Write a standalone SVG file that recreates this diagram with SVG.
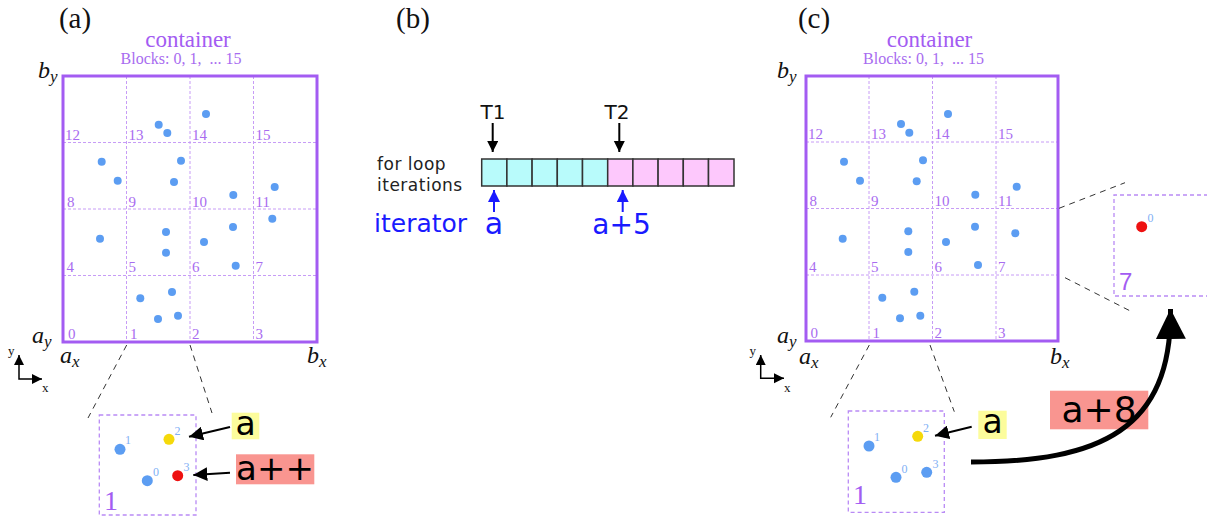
<svg xmlns="http://www.w3.org/2000/svg" width="1207" height="518" viewBox="0 0 1207 518">
<style>
.bg{fill:#fff}
.frame{fill:none;stroke:#a35cf2;stroke-width:3}
.grid{stroke:#c79cf6;stroke-width:1;stroke-dasharray:3,2;fill:none}
.blk{font-family:"Liberation Serif",serif;font-size:15px;fill:#a86cf0}
.title{font-family:"Liberation Serif",serif;font-size:23px;fill:#a35cf2;text-anchor:middle}
.sub{font-family:"Liberation Serif",serif;font-size:16px;fill:#a86cf0;text-anchor:middle;white-space:pre}
.panel{font-family:"Liberation Serif",serif;font-size:29px;fill:#111;text-anchor:middle}
.coord{font-family:"Liberation Serif",serif;font-style:italic;font-size:24px;fill:#111}
.coordsub{font-size:17px}
.dot{fill:#5c9df2}
.zoomline{stroke:#333;stroke-width:1;stroke-dasharray:6,5;fill:none}
.inset{fill:none;stroke:#b98af5;stroke-width:1.3;stroke-dasharray:4,3}
.ilbl{font-family:"Liberation Serif",serif;font-size:12px;fill:#7fb0f5}
.ibig{font-family:"Liberation Serif",serif;font-size:28px;fill:#a35cf2}
.axis{stroke:#000;stroke-width:1.5;fill:none}
.axl{font-family:"Liberation Serif",serif;font-size:13px;fill:#111}
.sans{font-family:"DejaVu Sans","Liberation Sans",sans-serif}
.blk-arrow{stroke:#000;stroke-width:2;fill:none}
.blue-arrow{stroke:#1a1aff;stroke-width:2;fill:none}
.cell{stroke:#333;stroke-width:1.5}
.cyan{fill:#b8fbfb}
.pink{fill:#fdc8fc}
</style>
<defs>
<marker id="ah" markerUnits="userSpaceOnUse" markerWidth="16" markerHeight="14" refX="14" refY="7" orient="auto"><path d="M0,0 L14,7 L0,14 z" fill="#000"/></marker>
<marker id="ahs" markerUnits="userSpaceOnUse" markerWidth="12" markerHeight="12" refX="11" refY="5.5" orient="auto"><path d="M0,0 L11,5.5 L0,11 z" fill="#000"/></marker>
<marker id="ahb" markerUnits="userSpaceOnUse" markerWidth="14" markerHeight="14" refX="12" refY="6" orient="auto"><path d="M0,0 L12,6 L0,12 z" fill="#1a1aff"/></marker>
<marker id="ahbig" markerUnits="userSpaceOnUse" markerWidth="32" markerHeight="32" refX="30" refY="15" orient="auto"><path d="M0,0 L30,15 L0,30 z" fill="#000"/></marker>
<marker id="ahax" markerUnits="userSpaceOnUse" markerWidth="12" markerHeight="12" refX="10" refY="5" orient="auto-start-reverse"><path d="M0,0 L10,5 L0,10 z" fill="#000"/></marker>
</defs>
<rect class="bg" x="0" y="0" width="1207" height="518"/>

<!-- Panel (a) -->
<g id="panel-a">
<text class="panel" x="75" y="28">(a)</text>
<text class="title" x="188" y="47">container</text>
<text class="sub" x="181" y="64">Blocks: 0, 1,  ... 15</text>
<text class="coord" x="38" y="78">b<tspan class="coordsub" dy="4">y</tspan></text>
<text class="coord" x="32" y="343">a<tspan class="coordsub" dy="4">y</tspan></text>
<text class="coord" x="60" y="363">a<tspan class="coordsub" dy="4">x</tspan></text>
<text class="coord" x="307" y="363">b<tspan class="coordsub" dy="4">x</tspan></text>
<g id="grid-a">
<line class="grid" x1="126.5" y1="76" x2="126.5" y2="342"/>
<line class="grid" x1="190" y1="76" x2="190" y2="342"/>
<line class="grid" x1="253.5" y1="76" x2="253.5" y2="342"/>
<line class="grid" x1="63" y1="142.5" x2="317" y2="142.5"/>
<line class="grid" x1="63" y1="209" x2="317" y2="209"/>
<line class="grid" x1="63" y1="275.5" x2="317" y2="275.5"/>
<rect class="frame" x="63" y="76" width="254" height="266"/>
</g>
<g id="blocks-a">
<text class="blk" x="65" y="139.5">12</text><text class="blk" x="128.5" y="139.5">13</text><text class="blk" x="192" y="139.5">14</text><text class="blk" x="255.5" y="139.5">15</text>
<text class="blk" x="67" y="206.5">8</text><text class="blk" x="128.5" y="206.5">9</text><text class="blk" x="192" y="206.5">10</text><text class="blk" x="255.5" y="206.5">11</text>
<text class="blk" x="66.5" y="272">4</text><text class="blk" x="128.5" y="272">5</text><text class="blk" x="192" y="272">6</text><text class="blk" x="255.5" y="272">7</text>
<text class="blk" x="68" y="338.5">0</text><text class="blk" x="130" y="338.5">1</text><text class="blk" x="192" y="338.5">2</text><text class="blk" x="255.5" y="338.5">3</text>
</g>
<g id="points-a">
<circle class="dot" cx="206" cy="114" r="4"/><circle class="dot" cx="158.7" cy="124.7" r="4"/><circle class="dot" cx="167.3" cy="133" r="4"/>
<circle class="dot" cx="101.7" cy="161.7" r="4"/><circle class="dot" cx="181" cy="160.7" r="4"/><circle class="dot" cx="117.7" cy="180.7" r="4"/><circle class="dot" cx="174" cy="182" r="4"/><circle class="dot" cx="233.3" cy="195" r="4"/><circle class="dot" cx="274.7" cy="187" r="4"/>
<circle class="dot" cx="272.3" cy="218.7" r="4"/><circle class="dot" cx="233" cy="227" r="4"/><circle class="dot" cx="100" cy="238.7" r="4"/><circle class="dot" cx="166" cy="232" r="4"/><circle class="dot" cx="166" cy="252.7" r="4"/><circle class="dot" cx="204" cy="242" r="4"/><circle class="dot" cx="235.7" cy="265.7" r="4"/>
<circle class="dot" cx="140.3" cy="298.3" r="4"/><circle class="dot" cx="172" cy="292" r="4"/><circle class="dot" cx="158" cy="319" r="4"/><circle class="dot" cx="178" cy="315.7" r="4"/>
</g>
<g id="axes-a">
<polyline class="axis" points="19,355 19,379 42,379" marker-start="url(#ahax)" marker-end="url(#ahax)"/>
<text class="axl" x="8" y="355">y</text>
<text class="axl" x="42" y="392">x</text>
</g>
</g>

<g id="inset-a">
<rect class="inset" x="99.3" y="415" width="96.7" height="100"/>
<circle cx="120" cy="449.3" r="5.5" fill="#5c9df2"/><text class="ilbl" x="125" y="444">1</text>
<circle cx="169" cy="439.3" r="5.5" fill="#f5d90a"/><text class="ilbl" x="174.5" y="435">2</text>
<circle cx="147.3" cy="480.7" r="5.5" fill="#5c9df2"/><text class="ilbl" x="153" y="476">0</text>
<circle cx="177.7" cy="475.7" r="5.5" fill="#ee1111"/><text class="ilbl" x="183.5" y="471">3</text>
<text class="ibig" x="104" y="510">1</text>
</g>

<g id="label-a-yellow">
<rect x="231.7" y="412.7" width="27.6" height="26.6" fill="#fcfc9c"/>
<text class="sans" x="245.5" y="435" font-size="33" text-anchor="middle">a</text>
</g>
<g id="label-app">
<rect x="236" y="454.3" width="78.3" height="30" fill="#f99590"/>
<text class="sans" x="275" y="480" font-size="34" text-anchor="middle">a++</text>
</g>

<!-- Panel (b) -->
<g id="panel-b">
<text class="panel" x="413" y="28">(b)</text>
</g>
<g id="loop-cells">
<rect class="cell cyan" x="481.7" y="159" width="25.2" height="27"/>
<rect class="cell cyan" x="506.9" y="159" width="25.2" height="27"/>
<rect class="cell cyan" x="532.1" y="159" width="25.2" height="27"/>
<rect class="cell cyan" x="557.3" y="159" width="25.2" height="27"/>
<rect class="cell cyan" x="582.5" y="159" width="25.2" height="27"/>
<rect class="cell pink" x="607.7" y="159" width="25.2" height="27"/>
<rect class="cell pink" x="632.9" y="159" width="25.2" height="27"/>
<rect class="cell pink" x="658.1" y="159" width="25.2" height="27"/>
<rect class="cell pink" x="683.3" y="159" width="25.2" height="27"/>
<rect class="cell pink" x="708.5" y="159" width="25.5" height="27"/>
</g>
<g id="loop-text">
<text class="sans" x="377" y="170" font-size="17" fill="#222" letter-spacing="0.5">for loop</text>
<text class="sans" x="377" y="191" font-size="17" fill="#222" letter-spacing="0.5">iterations</text>
<text class="sans" x="374" y="232" font-size="25" fill="#1a1aff">iterator</text>
<text class="sans" x="494" y="234" font-size="30" fill="#1a1aff" text-anchor="middle">a</text>
<text class="sans" x="621.5" y="234" font-size="28" fill="#1a1aff" text-anchor="middle">a+5</text>
<text class="sans" x="493" y="119" font-size="20" fill="#111" text-anchor="middle">T1</text>
<text class="sans" x="617" y="119" font-size="20" fill="#111" text-anchor="middle">T2</text>
</g>

<!-- Panel (c) -->
<g id="panel-c">
<text class="panel" x="814" y="28">(c)</text>
<text class="title" x="929.5" y="47">container</text>
<text class="sub" x="923.5" y="64">Blocks: 0, 1,  ... 15</text>
<text class="coord" x="777" y="78">b<tspan class="coordsub" dy="4">y</tspan></text>
<text class="coord" x="777" y="343">a<tspan class="coordsub" dy="4">y</tspan></text>
<text class="coord" x="799" y="364">a<tspan class="coordsub" dy="4">x</tspan></text>
<text class="coord" x="1050" y="364">b<tspan class="coordsub" dy="4">x</tspan></text>
<g id="grid-c">
<line class="grid" x1="869" y1="76" x2="869" y2="341"/>
<line class="grid" x1="932.5" y1="76" x2="932.5" y2="341"/>
<line class="grid" x1="996" y1="76" x2="996" y2="341"/>
<line class="grid" x1="806" y1="142" x2="1058" y2="142"/>
<line class="grid" x1="806" y1="208.5" x2="1058" y2="208.5"/>
<line class="grid" x1="806" y1="275" x2="1058" y2="275"/>
<rect class="frame" x="806" y="76" width="252" height="265"/>
</g>
<g id="blocks-c">
<text class="blk" x="808" y="139.3">12</text><text class="blk" x="871" y="139.3">13</text><text class="blk" x="934.5" y="139.3">14</text><text class="blk" x="998" y="139.3">15</text>
<text class="blk" x="809.5" y="206">8</text><text class="blk" x="871" y="206">9</text><text class="blk" x="934.5" y="206">10</text><text class="blk" x="998" y="206">11</text>
<text class="blk" x="809" y="271.7">4</text><text class="blk" x="871" y="271.7">5</text><text class="blk" x="934.5" y="271.7">6</text><text class="blk" x="998" y="271.7">7</text>
<text class="blk" x="810.5" y="337.7">0</text><text class="blk" x="872.5" y="337.7">1</text><text class="blk" x="934.5" y="337.7">2</text><text class="blk" x="998" y="337.7">3</text>
</g>
<g id="points-c">
<circle class="dot" cx="948" cy="114" r="4"/><circle class="dot" cx="901" cy="124" r="4"/><circle class="dot" cx="909.3" cy="132.7" r="4"/>
<circle class="dot" cx="844" cy="161.7" r="4"/><circle class="dot" cx="923" cy="160.3" r="4"/><circle class="dot" cx="860" cy="180.7" r="4"/><circle class="dot" cx="916.7" cy="181.3" r="4"/><circle class="dot" cx="975.3" cy="194.7" r="4"/><circle class="dot" cx="1016.7" cy="186.7" r="4"/>
<circle class="dot" cx="1015.3" cy="233.3" r="4"/><circle class="dot" cx="975" cy="226.7" r="4"/><circle class="dot" cx="842.7" cy="238.7" r="4"/><circle class="dot" cx="908.3" cy="231.3" r="4"/><circle class="dot" cx="908.3" cy="252" r="4"/><circle class="dot" cx="946" cy="242" r="4"/><circle class="dot" cx="978" cy="265" r="4"/>
<circle class="dot" cx="882.3" cy="297.7" r="4"/><circle class="dot" cx="914.3" cy="291.7" r="4"/><circle class="dot" cx="900" cy="318.3" r="4"/><circle class="dot" cx="920.3" cy="315.7" r="4"/>
</g>
<g id="axes-c">
<polyline class="axis" points="760.7,355 760.7,378.3 784,378.3" marker-start="url(#ahax)" marker-end="url(#ahax)"/>
<text class="axl" x="749.5" y="355">y</text>
<text class="axl" x="784" y="392">x</text>
</g>
</g>

<g id="inset-c1">
<rect class="inset" x="848.3" y="411" width="96" height="101.3"/>
<circle cx="869" cy="446" r="5.5" fill="#5c9df2"/><text class="ilbl" x="874" y="441">1</text>
<circle cx="917.7" cy="436.3" r="5.5" fill="#f5d90a"/><text class="ilbl" x="923" y="431.5">2</text>
<circle cx="896" cy="477.3" r="5.5" fill="#5c9df2"/><text class="ilbl" x="901.5" y="473">0</text>
<circle cx="926.7" cy="472.3" r="5.5" fill="#5c9df2"/><text class="ilbl" x="932.5" y="468">3</text>
<text class="ibig" x="853" y="504">1</text>
</g>

<g id="inset-c7">
<path class="inset" d="M1215,195 L1114,195 L1114,296 L1215,296"/>
<circle cx="1141.7" cy="226.7" r="5.5" fill="#ee1111"/><text class="ilbl" x="1147.5" y="222">0</text>
<text x="1119" y="290" style="font-family:'Liberation Sans',sans-serif;font-size:24px;fill:#a35cf2">7</text>
</g>

<g id="label-c-yellow">
<rect x="978.3" y="410.7" width="28.4" height="28.3" fill="#fcfc9c"/>
<text class="sans" x="992.5" y="433" font-size="33" text-anchor="middle">a</text>
</g>
<g id="label-a8">
<rect x="1050" y="390.7" width="98.3" height="38.6" fill="#f99590"/>
<text class="sans" x="1099" y="422" font-size="36" text-anchor="middle">a+8</text>
</g>

<g id="connectors">
<line class="zoomline" x1="126.7" y1="345" x2="88" y2="418"/>
<line class="zoomline" x1="190" y1="345" x2="212" y2="413"/>
<line class="zoomline" x1="869.3" y1="345" x2="830.7" y2="417.3"/>
<line class="zoomline" x1="930" y1="345" x2="954.3" y2="411.7"/>
<line class="zoomline" x1="1059" y1="208.3" x2="1125" y2="182.7"/>
<line class="zoomline" x1="1065" y1="277.7" x2="1131.7" y2="311.7"/>
<line class="blk-arrow" x1="230" y1="427" x2="189" y2="436.7" marker-end="url(#ah)"/>
<line class="blk-arrow" x1="230" y1="472.7" x2="193.3" y2="475" marker-end="url(#ah)"/>
<line class="blk-arrow" x1="971.7" y1="426.7" x2="935" y2="435.7" marker-end="url(#ah)"/>
<line class="blk-arrow" x1="492.7" y1="123" x2="492.7" y2="152" marker-end="url(#ahs)"/>
<line class="blk-arrow" x1="619.3" y1="123" x2="619.3" y2="152" marker-end="url(#ahs)"/>
<line class="blue-arrow" x1="494" y1="212" x2="494" y2="190" marker-end="url(#ahb)"/>
<line class="blue-arrow" x1="622.7" y1="212" x2="622.7" y2="190" marker-end="url(#ahb)"/>
<path d="M971,462 C1100,462 1172,430 1170.5,309" fill="none" stroke="#000" stroke-width="5" marker-end="url(#ahbig)"/>
</g>
</svg>
